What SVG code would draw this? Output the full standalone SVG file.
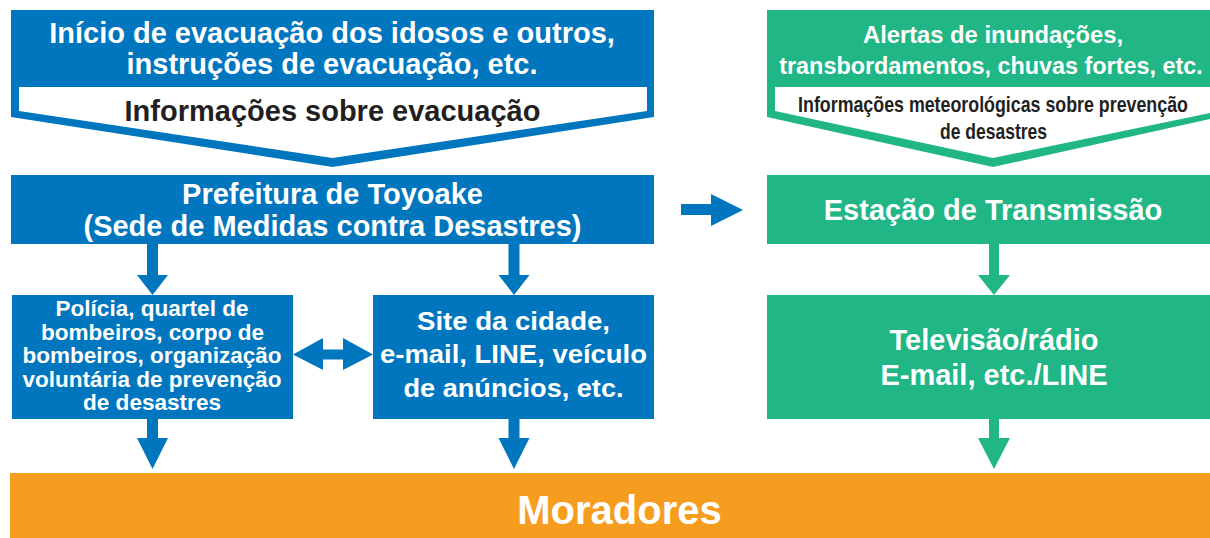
<svg xmlns="http://www.w3.org/2000/svg" width="1210" height="538" viewBox="0 0 1210 538">
<style>
.blue{fill:#0076bf}
.green{fill:#20b686}
.orange{fill:#f69d1f}
.white{fill:#ffffff}
text{font-family:"Liberation Sans",Arial,sans-serif;font-weight:bold;text-anchor:middle}
.tw{fill:#ffffff}
.td{fill:#231f20}
</style>
<rect width="1210" height="538" fill="#ffffff"/>
<g id="evac-info">
<path class="blue" d="M11,10 H654 V117 L332.5,167 L11,117 Z"/>
<path class="white" d="M19,87 H647 V111 L332.5,158 L19,111 Z"/>
<text class="tw" x="332" y="43" font-size="29">Início de evacuação dos idosos e outros,</text>
<text class="tw" x="332" y="74" font-size="29">instruções de evacuação, etc.</text>
<text class="td" x="332.5" y="121" font-size="29">Informações sobre evacuação</text>
</g>
<g id="weather-info">
<path class="green" d="M767,10 H1210 V119 L993,167 L767,117 Z"/>
<path class="white" d="M775,87 H1210 V113 L993,158 L775,111 Z"/>
<text class="tw" x="993" y="43" font-size="24.5" textLength="260" lengthAdjust="spacingAndGlyphs">Alertas de inundações,</text>
<text class="tw" transform="translate(991,74) scale(0.955,1)" x="0" y="0" font-size="24.5">transbordamentos, chuvas fortes, etc.</text>
<text class="td" transform="translate(993,111.5) scale(0.81,1)" x="0" y="0" font-size="22">Informações meteorológicas sobre prevenção</text>
<text class="td" x="993.5" y="139" font-size="22" textLength="107" lengthAdjust="spacingAndGlyphs">de desastres</text>
</g>
<g id="prefeitura">
<rect class="blue" x="11" y="175" width="643" height="69"/>
<text class="tw" x="332.5" y="204" font-size="29">Prefeitura de Toyoake</text>
<text class="tw" x="332.5" y="236" font-size="29">(Sede de Medidas contra Desastres)</text>
</g>
<g id="estacao">
<rect class="green" x="767" y="175" width="443" height="69"/>
<text class="tw" x="993" y="220" font-size="29">Estação de Transmissão</text>
</g>
<g id="policia">
<rect class="blue" x="12" y="295" width="281" height="124"/>
<text class="tw" x="152" y="316" font-size="21.5" textLength="193" lengthAdjust="spacingAndGlyphs">Polícia, quartel de</text>
<text class="tw" x="152.5" y="339.5" font-size="21.5" textLength="223" lengthAdjust="spacingAndGlyphs">bombeiros, corpo de</text>
<text class="tw" x="152" y="363" font-size="21.5" textLength="259" lengthAdjust="spacingAndGlyphs">bombeiros, organização</text>
<text class="tw" x="152" y="386.5" font-size="21.5" textLength="259" lengthAdjust="spacingAndGlyphs">voluntária de prevenção</text>
<text class="tw" x="152" y="410" font-size="21.5" textLength="138" lengthAdjust="spacingAndGlyphs">de desastres</text>
</g>
<g id="site">
<rect class="blue" x="373" y="295" width="281" height="124"/>
<text class="tw" x="513.5" y="330" font-size="25.5" textLength="193" lengthAdjust="spacingAndGlyphs">Site da cidade,</text>
<text class="tw" x="513.5" y="363" font-size="25.5" textLength="267" lengthAdjust="spacingAndGlyphs">e-mail, LINE, veículo</text>
<text class="tw" x="513.5" y="397" font-size="25.5" textLength="220" lengthAdjust="spacingAndGlyphs">de anúncios, etc.</text>
</g>
<g id="tv-radio">
<rect class="green" x="767" y="295" width="443" height="124"/>
<text class="tw" x="994" y="350" font-size="29">Televisão/rádio</text>
<text class="tw" x="994" y="385" font-size="29">E-mail, etc./LINE</text>
</g>
<g id="moradores">
<rect class="orange" x="10" y="473" width="1200" height="65"/>
<text class="tw" x="619.5" y="524" font-size="40">Moradores</text>
</g>
<g id="connectors">
<polygon class="blue" points="147,244 158,244 158,275 168,275 152.5,295 137,275 147,275"/>
<polygon class="blue" points="508.5,244 519.5,244 519.5,275 529.5,275 514,295 498.5,275 508.5,275"/>
<polygon class="blue" points="147,419 158,419 158,438 168,438 152.5,469 137,438 147,438"/>
<polygon class="blue" points="508.5,419 519.5,419 519.5,438 529.5,438 514,469 498.5,438 508.5,438"/>
<polygon class="blue" points="293,354.5 323,338 323,349.5 343,349.5 343,338 373,354.5 343,370 343,359.5 323,359.5 323,370"/>
<polygon class="blue" points="681,204 711,204 711,194 743,210 711,226 711,215 681,215"/>
<polygon class="green" points="989,244 999,244 999,275 1010,275 994,295 978,275 989,275"/>
<polygon class="green" points="989,419 999,419 999,438 1010,438 994,469 978,438 989,438"/>
</g>
</svg>
